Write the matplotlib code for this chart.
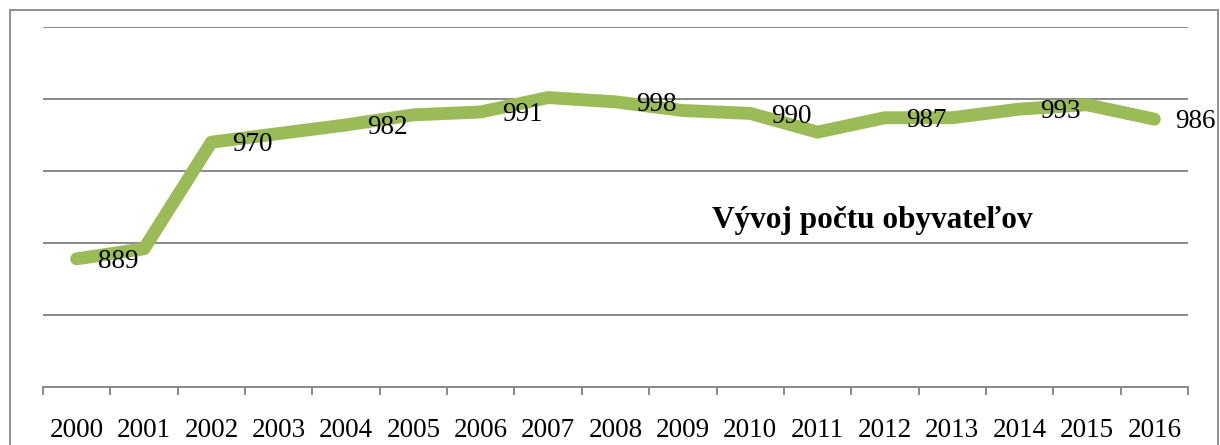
import matplotlib
matplotlib.use("Agg")
import matplotlib.pyplot as plt
from matplotlib.patches import Rectangle

years = [str(y) for y in range(2000, 2017)]
population = [889, 896, 970, 976, 982, 989, 991, 1001, 998, 992, 990, 977, 987, 987, 993, 996, 986]
labeled_years = ["2000", "2002", "2004", "2006", "2008", "2010", "2012", "2014", "2016"]
title_text = "Vývoj počtu obyvateľov"

plt.rcParams['font.family'] = ['Liberation Serif', 'DejaVu Serif']

W, H = 1220, 445
fig = plt.figure(figsize=(W / 100, H / 100), dpi=100)
ax = fig.add_axes([43 / W, 1 - 387 / H, (1188 - 43) / W, (387 - 27) / H])

x = list(range(len(years)))
ax.plot(x, population, color='#9BBB59', linewidth=9.3,
        solid_capstyle='round', solid_joinstyle='round', zorder=3)

for i, (yr, v) in enumerate(zip(years, population)):
    if yr in labeled_years:
        ax.annotate(str(v), (i, v), xytext=(15, -2), textcoords='offset points',
                    ha='left', va='center', fontsize=19.5, color='black', zorder=4,
                    annotation_clip=False)

ax.set_xlim(-0.5, len(years) - 0.5)
ax.set_ylim(800, 1050)
ax.set_yticks([850, 900, 950, 1000, 1050])
ax.yaxis.grid(True, color='#808080', linewidth=1.3)
ax.tick_params(axis='y', length=0, labelleft=False)
ax.set_axisbelow(True)

ax.set_xticks(x)
ax.set_xticklabels(years, fontsize=19.5)
ax.set_xticks([i - 0.5 for i in range(len(years) + 1)], minor=True)
ax.tick_params(axis='x', which='major', length=0, pad=22.5)
ax.tick_params(axis='x', which='minor', length=5.5, width=1.3, color='#808080', direction='out')

for s in ['left', 'right', 'top']:
    ax.spines[s].set_visible(False)
ax.spines['bottom'].set_color('#808080')
ax.spines['bottom'].set_linewidth(1.3)

fig.text(872 / W, 1 - 228 / H, title_text, fontsize=22.5, fontweight='bold',
         ha='center', va='baseline')

fig.patches.append(Rectangle((10 / W, -0.1), (1218 - 10) / W, 1 - 10 / H + 0.1,
                             transform=fig.transFigure, fill=False,
                             edgecolor='#868686', linewidth=1.3))

fig.savefig('out.png', dpi=100)
